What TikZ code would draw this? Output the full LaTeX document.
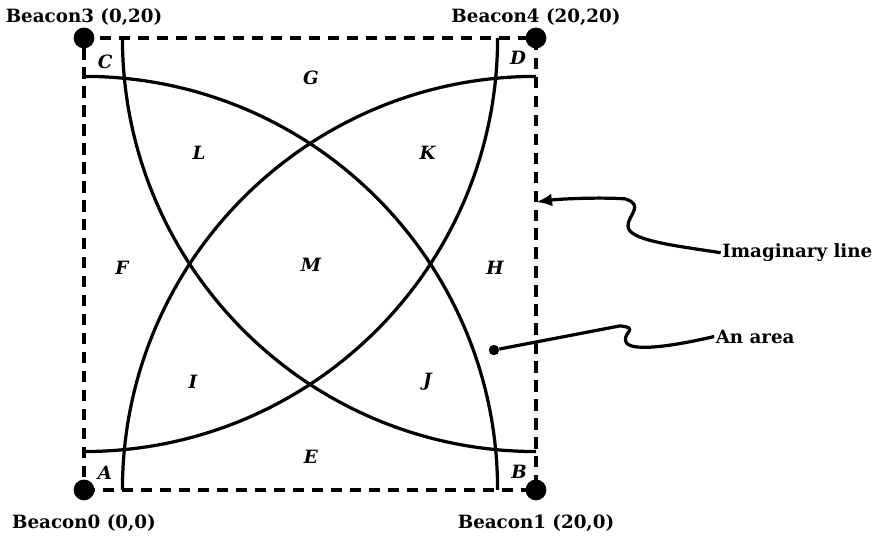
\documentclass[tikz,border=0pt]{standalone}
\usepackage{fontspec}
\setmainfont{DejaVu Serif}
\usepackage{tikz}
\usetikzlibrary{arrows.meta,positioning}

\begin{document}
\begin{tikzpicture}[
    x=0.565cm, y=0.565cm,
    beacon/.style={circle, fill=black, inner sep=0pt, minimum size=0.52cm},
    blabel/.style={font=\fontsize{13}{15}\selectfont\bfseries, inner sep=1pt},
    region/.style={font=\fontsize{13}{15}\selectfont\bfseries\itshape, inner sep=1pt},
    rangearc/.style={line width=2.3pt},
    imagline/.style={line width=2.3pt, dash pattern=on 8pt off 5.5pt},
    callout/.style={line width=2.3pt}
]
    \useasboundingbox (-3.717,-2.168) rectangle (35.0,21.68);

    % corners of the field
    \coordinate (c0) at (0,0);
    \coordinate (c1) at (20,0);
    \coordinate (c3) at (0,20);
    \coordinate (c4) at (20,20);

    % imaginary square
    \draw[imagline] (c0) -- (c1) -- (c4) -- (c3) -- cycle;

    % beacon ranges
    \def\rad{18.3}
    \foreach \c/\a in {c0/0, c1/90, c4/180, c3/270}
        \draw[rangearc] (\c) ++(\a:\rad) arc[start angle=\a, delta angle=90, radius=\rad];

    % beacons
    \node[beacon] (b0) at (c0) {};
    \node[beacon] (b1) at (c1) {};
    \node[beacon] (b3) at (c3) {};
    \node[beacon] (b4) at (c4) {};
    \node[blabel, below=0.3cm of b0] (b0lbl) {Beacon0 (0,0)};
    \node[blabel, below=0.3cm of b1] (b1lbl) {Beacon1 (20,0)};
    \node[blabel, above=0cm of b3] (b3lbl) {Beacon3 (0,20)};
    \node[blabel, above=0cm of b4] (b4lbl) {Beacon4 (20,20)};

    % areas
    \foreach \n/\p in {A/{0.93,0.75}, B/{19.25,0.8}, C/{0.93,18.94}, D/{19.2,19.1},
                       E/{10.04,1.46}, F/{1.68,9.82}, G/{10.04,18.23}, H/{18.19,9.82},
                       I/{4.82,4.78}, J/{15.2,4.78}, K/{15.2,14.9}, L/{5.09,14.9},
                       M/{10.04,9.96}}
        \node[region] (r\n) at (\p) {\n};

    % callouts
    \node[blabel, anchor=base west] (imagtxt) at (28.17,10.28) {Imaginary line};
    \coordinate (imagtip) at (20,12.74);
    \draw[callout, -{Latex[length=4mm, width=3.2mm]}] (imagtxt.west)
        .. controls (25.93,10.84) and (24.07,11.06) .. (24.07,11.68)
        .. controls (24.07,12.17) and (24.82,12.61) .. (23.94,12.88)
        .. controls (22.83,12.96) and (21.06,12.88) .. (imagtip);

    \node[circle, fill=black, inner sep=0pt, minimum size=0.26cm] (areadot) at (18.14,6.19) {};
    \node[blabel, anchor=base west] (areatxt) at (27.88,6.5) {An area};
    \draw[callout] (areatxt.west)
        .. controls (25.93,6.33) and (24.16,6.11) .. (23.98,6.55)
        .. controls (23.81,6.95) and (24.6,7.17) .. (23.72,7.26)
        -- (areadot);
\end{tikzpicture}
\end{document}
